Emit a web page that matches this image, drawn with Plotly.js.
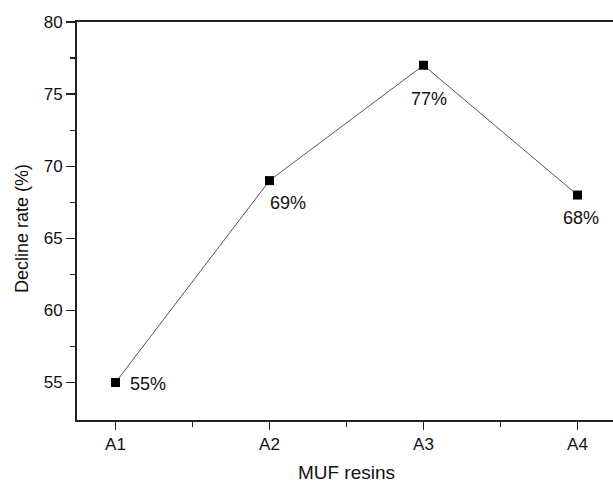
<!DOCTYPE html>
<html><head><meta charset="utf-8">
<script src="https://cdn.plot.ly/plotly-3.0.1.min.js"></script>
<style>html,body{margin:0;padding:0;overflow:hidden;background:#fff}</style>
</head><body><div id="chart"></div>
<script>
const categories = ["A1", "A2", "A3", "A4"];
const declineRate = [55, 69, 77, 68];
const pointLabels = ["55%", "69%", "77%", "68%"];
const xTitle = "MUF resins";
const yTitle = "Decline rate (%)";

// label offsets (pixels) relative to each marker: style only
const labelShiftX = [32, 18, 5, 3];
const labelShiftY = [-1, -22, -34, -23];

const xIdx = categories.map((c, i) => i);
const fam = "Liberation Sans, Arial, Helvetica, sans-serif";
const trace = {
  x: xIdx, y: declineRate, mode: "lines+markers",
  line: {color: "#555", width: 1},
  marker: {symbol: "square", size: 9, color: "#000"},
  cliponaxis: false, hoverinfo: "none"
};
const annotations = xIdx.map((xi, i) => ({
  x: xi, y: declineRate[i], xref: "x", yref: "y",
  text: pointLabels[i], showarrow: false,
  xanchor: "center", yanchor: "middle",
  xshift: labelShiftX[i], yshift: labelShiftY[i],
  font: {family: fam, size: 18, color: "#111"}
}));
annotations.push({
  text: yTitle, textangle: -90, showarrow: false,
  xref: "paper", yref: "paper", x: 0, y: 0.5,
  xanchor: "center", yanchor: "middle", xshift: -55, yshift: -8,
  font: {family: fam, size: 18, color: "#111"}
});
const tickFont = {family: fam, size: 17, color: "#111"};
const titleFont = {family: fam, size: 19, color: "#111"};
const layout = {
  width: 620, height: 483,
  margin: {l: 77, r: 4, t: 22, b: 63},
  paper_bgcolor: "#fff", plot_bgcolor: "#fff",
  showlegend: false, font: tickFont,
  annotations: annotations,
  xaxis: {
    range: [-0.25, 3.25], tickvals: xIdx, ticktext: categories,
    tickfont: tickFont,
    ticks: "outside", ticklen: 8, tickwidth: 1.3, tickcolor: "#222",
    showline: true, linecolor: "#222", linewidth: 2, mirror: true,
    showgrid: false, zeroline: false,
    minor: {tickvals: [0.5, 1.5, 2.5], ticks: "outside", ticklen: 5, tickwidth: 1.3, tickcolor: "#222"},
    title: {text: xTitle, font: titleFont, standoff: 15}
  },
  yaxis: {
    range: [52.4, 80], tickvals: [55, 60, 65, 70, 75, 80],
    tickfont: tickFont,
    ticks: "outside", ticklen: 9, tickwidth: 1.3, tickcolor: "#222",
    showline: true, linecolor: "#222", linewidth: 2, mirror: true,
    showgrid: false, zeroline: false,
    minor: {tickvals: [57.5, 62.5, 67.5, 72.5, 77.5], ticks: "outside", ticklen: 5, tickwidth: 1.3, tickcolor: "#222"}
  }
};
Plotly.newPlot("chart", [trace], layout, {displayModeBar: false, staticPlot: true});
</script></body></html>
